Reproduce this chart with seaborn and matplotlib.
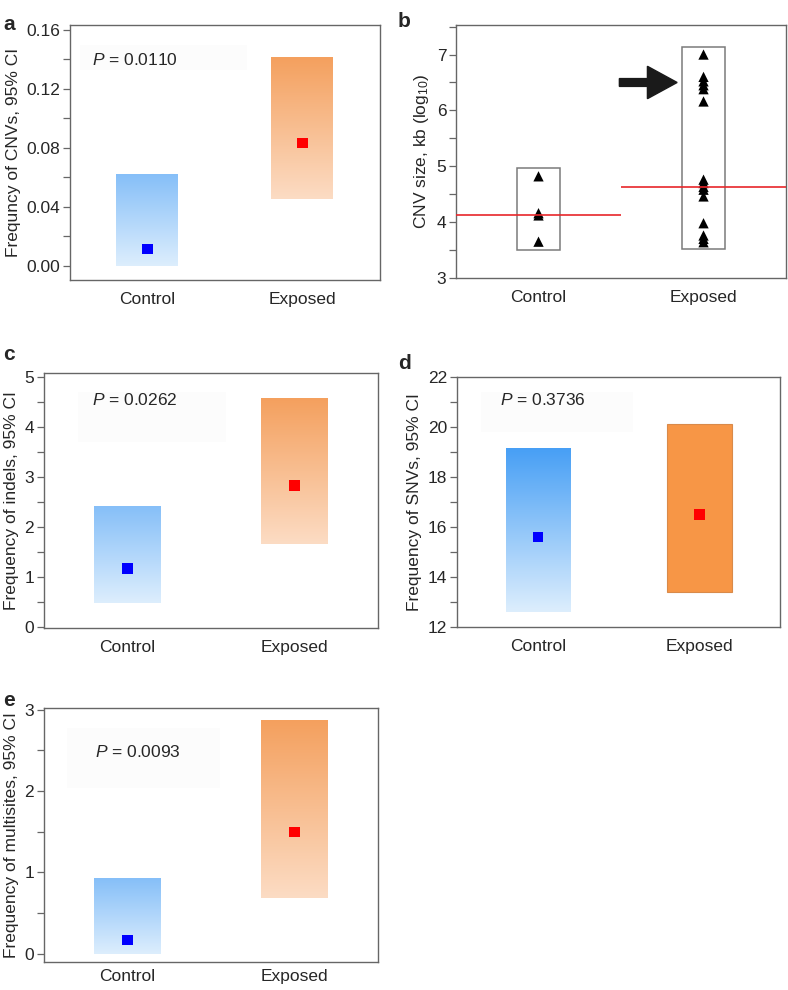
import numpy as np
import pandas as pd
import matplotlib
matplotlib.use("Agg")
import matplotlib.pyplot as plt
import seaborn as sns
from matplotlib.colors import LinearSegmentedColormap
from matplotlib.patches import FancyArrow, Rectangle
from matplotlib.ticker import MultipleLocator

sns.set_style("white")
plt.rcParams["font.family"] = ["Liberation Sans", "DejaVu Sans"]
plt.rcParams["mathtext.fontset"] = "custom"
plt.rcParams["mathtext.it"] = "Liberation Sans:italic"
plt.rcParams["mathtext.rm"] = "Liberation Sans"

groups = ["Control", "Exposed"]

# panel a: CNV frequency
cnv_est = [0.011, 0.083]
cnv_lo = [0.0, 0.045]
cnv_hi = [0.062, 0.141]
cnv_p = "0.0110"

# panel c: indels
indel_est = [1.17, 2.83]
indel_lo = [0.47, 1.65]
indel_hi = [2.40, 4.55]
indel_p = "0.0262"

# panel d: SNVs
snv_est = [15.6, 16.5]
snv_lo = [12.6, 13.4]
snv_hi = [19.15, 20.1]
snv_p = "0.3736"

# panel e: multisites
multi_est = [0.17, 1.50]
multi_lo = [0.0, 0.68]
multi_hi = [0.93, 2.86]
multi_p = "0.0093"

# panel b: CNV sizes (log10 kb)
size_control = [4.82, 4.16, 4.12, 3.65]
size_exposed = [7.0, 6.60, 6.52, 6.45, 6.38, 6.16, 4.76, 4.70, 4.63, 4.58, 4.46,
                3.98, 3.76, 3.70, 3.64]
size_median = [4.13, 4.63]
size_box_lo = [3.50, 3.52]
size_box_hi = [4.97, 7.14]

BLUE_TOP, BLUE_BOT = "#86bff8", "#ddeefd"
BLUE_TOP_D = "#479ff5"
ORANGE_TOP, ORANGE_BOT = "#f4a05e", "#fcdcc4"
ORANGE_SOLID = "#f79646"
SPINE = "#666666"

fig = plt.figure(figsize=(7.88, 9.9), dpi=100)


def style_axes(ax, major, ylim, fmt=None, xpad=9):
    ax.set_xlim(-0.5, 1.5)
    ax.set_ylim(*ylim)
    ax.set_xticks([0, 1])
    ax.set_xticklabels(groups, fontsize=12.5)
    ax.yaxis.set_major_locator(MultipleLocator(major))
    ax.yaxis.set_minor_locator(MultipleLocator(major / 2))
    if fmt:
        ax.yaxis.set_major_formatter(matplotlib.ticker.FormatStrFormatter(fmt))
    ax.tick_params(axis="y", which="both", direction="out", length=5, width=0.9,
                   color=SPINE, labelsize=12.5, left=True, pad=2)
    ax.tick_params(axis="x", length=0, pad=xpad, labelsize=12.5)
    for s in ax.spines.values():
        s.set_color(SPINE)
        s.set_linewidth(1.0)
        s.set_visible(True)


def gradient_bar(ax, x, lo, hi, width, top, bot, solid=None):
    if solid is not None:
        ax.bar(x, hi - lo, bottom=lo, width=width, color=solid,
               edgecolor="#d98a4a", linewidth=0.8, zorder=1)
        return
    cmap = LinearSegmentedColormap.from_list("g", [bot, top])
    grad = np.linspace(0, 1, 256).reshape(-1, 1)
    ax.imshow(grad, cmap=cmap, origin="lower", aspect="auto",
              extent=(x - width / 2, x + width / 2, lo, hi), zorder=1)


def ci_panel(rect, est, lo, hi, pval, ylabel, major, ylim, fmt, ptxt, pbox,
             dsolid=False, top_blue=BLUE_TOP, xpad=9):
    ax = fig.add_axes(rect)
    ax.add_patch(Rectangle((pbox[0], pbox[1]), pbox[2], pbox[3],
                           transform=ax.transAxes, facecolor="#fcfcfc",
                           edgecolor="none", zorder=0))
    for i in range(2):
        if i == 0:
            gradient_bar(ax, i, lo[i], hi[i], 0.4, top_blue, BLUE_BOT)
        else:
            gradient_bar(ax, i, lo[i], hi[i], 0.4, ORANGE_TOP, ORANGE_BOT,
                         solid=ORANGE_SOLID if dsolid else None)
    df = pd.DataFrame({"x": [0, 1], "y": est, "g": groups})
    sns.scatterplot(data=df, x="x", y="y", hue="g", palette=["#0000ff", "#ff0000"],
                    marker="s", s=55, edgecolor="none", legend=False, ax=ax, zorder=3)
    ax.text(ptxt[0], ptxt[1], r"$\it{P}$ = " + pval, transform=ax.transAxes,
            fontsize=12.5, va="center", ha="left")
    ax.set_xlabel("")
    ax.set_ylabel(ylabel, fontsize=12.5)
    style_axes(ax, major, ylim, fmt, xpad)
    return ax


# a
ax_a = ci_panel([0.0888, 0.7172, 0.3934, 0.2576], cnv_est, cnv_lo, cnv_hi, cnv_p,
                "Frequncy of CNVs, 95% CI", 0.04, (-0.0098, 0.1634), "%.2f",
                (0.071, 0.863), (0.032, 0.824, 0.54, 0.096))
# c
ax_c = ci_panel([0.0558, 0.3657, 0.4239, 0.2576], indel_est, indel_lo, indel_hi, indel_p,
                "Frequency of indels, 95% CI", 1, (-0.02, 5.08), None,
                (0.144, 0.894), (0.102, 0.729, 0.443, 0.196))
# d
ax_d = ci_panel([0.580, 0.3667, 0.410, 0.2525], snv_est, snv_lo, snv_hi, snv_p,
                "Frequency of SNVs, 95% CI", 2, (12, 22), None,
                (0.133, 0.908), (0.074, 0.78, 0.47, 0.16), dsolid=True,
                top_blue=BLUE_TOP_D)
# e
ax_e = ci_panel([0.0558, 0.0283, 0.4239, 0.2566], multi_est, multi_lo, multi_hi, multi_p,
                "Frequency of multisites, 95% CI", 1, (-0.1, 3.02), None,
                (0.153, 0.827), (0.07, 0.685, 0.458, 0.235), xpad=5)

# b
ax_b = fig.add_axes([0.5787, 0.7192, 0.4188, 0.2556])
pts = pd.DataFrame({
    "x": [0] * len(size_control) + [1] * len(size_exposed),
    "y": size_control + size_exposed,
})
sns.scatterplot(data=pts, x="x", y="y", marker="^", color="black", s=55,
                edgecolor="none", ax=ax_b, zorder=3)
for i in range(2):
    ax_b.bar(i, size_box_hi[i] - size_box_lo[i], bottom=size_box_lo[i], width=0.26,
             facecolor="none", edgecolor="#7a7a7a", linewidth=1.1, zorder=2)
    ax_b.hlines(size_median[i], i - 0.5, i + 0.5, color="#e8262a", linewidth=1.2,
                zorder=4)
ax_b.add_patch(FancyArrow(0.49, 6.5, 0.35, 0, width=0.14, head_width=0.58,
                          head_length=0.18, length_includes_head=True,
                          color="#1a1a1a", zorder=5))
ax_b.set_xlabel("")
ax_b.set_ylabel(r"CNV size, kb (log$_{10}$)", fontsize=12.5)
style_axes(ax_b, 1, (3, 7.53))

# panel letters
for x, y, t in [(0.004, 0.985, "a"), (0.505, 0.988, "b"), (0.004, 0.652, "c"),
                (0.505, 0.642, "d"), (0.004, 0.302, "e")]:
    fig.text(x, y, t, fontsize=15, fontweight="bold", va="top", ha="left")

fig.savefig("out.png", dpi=100)
